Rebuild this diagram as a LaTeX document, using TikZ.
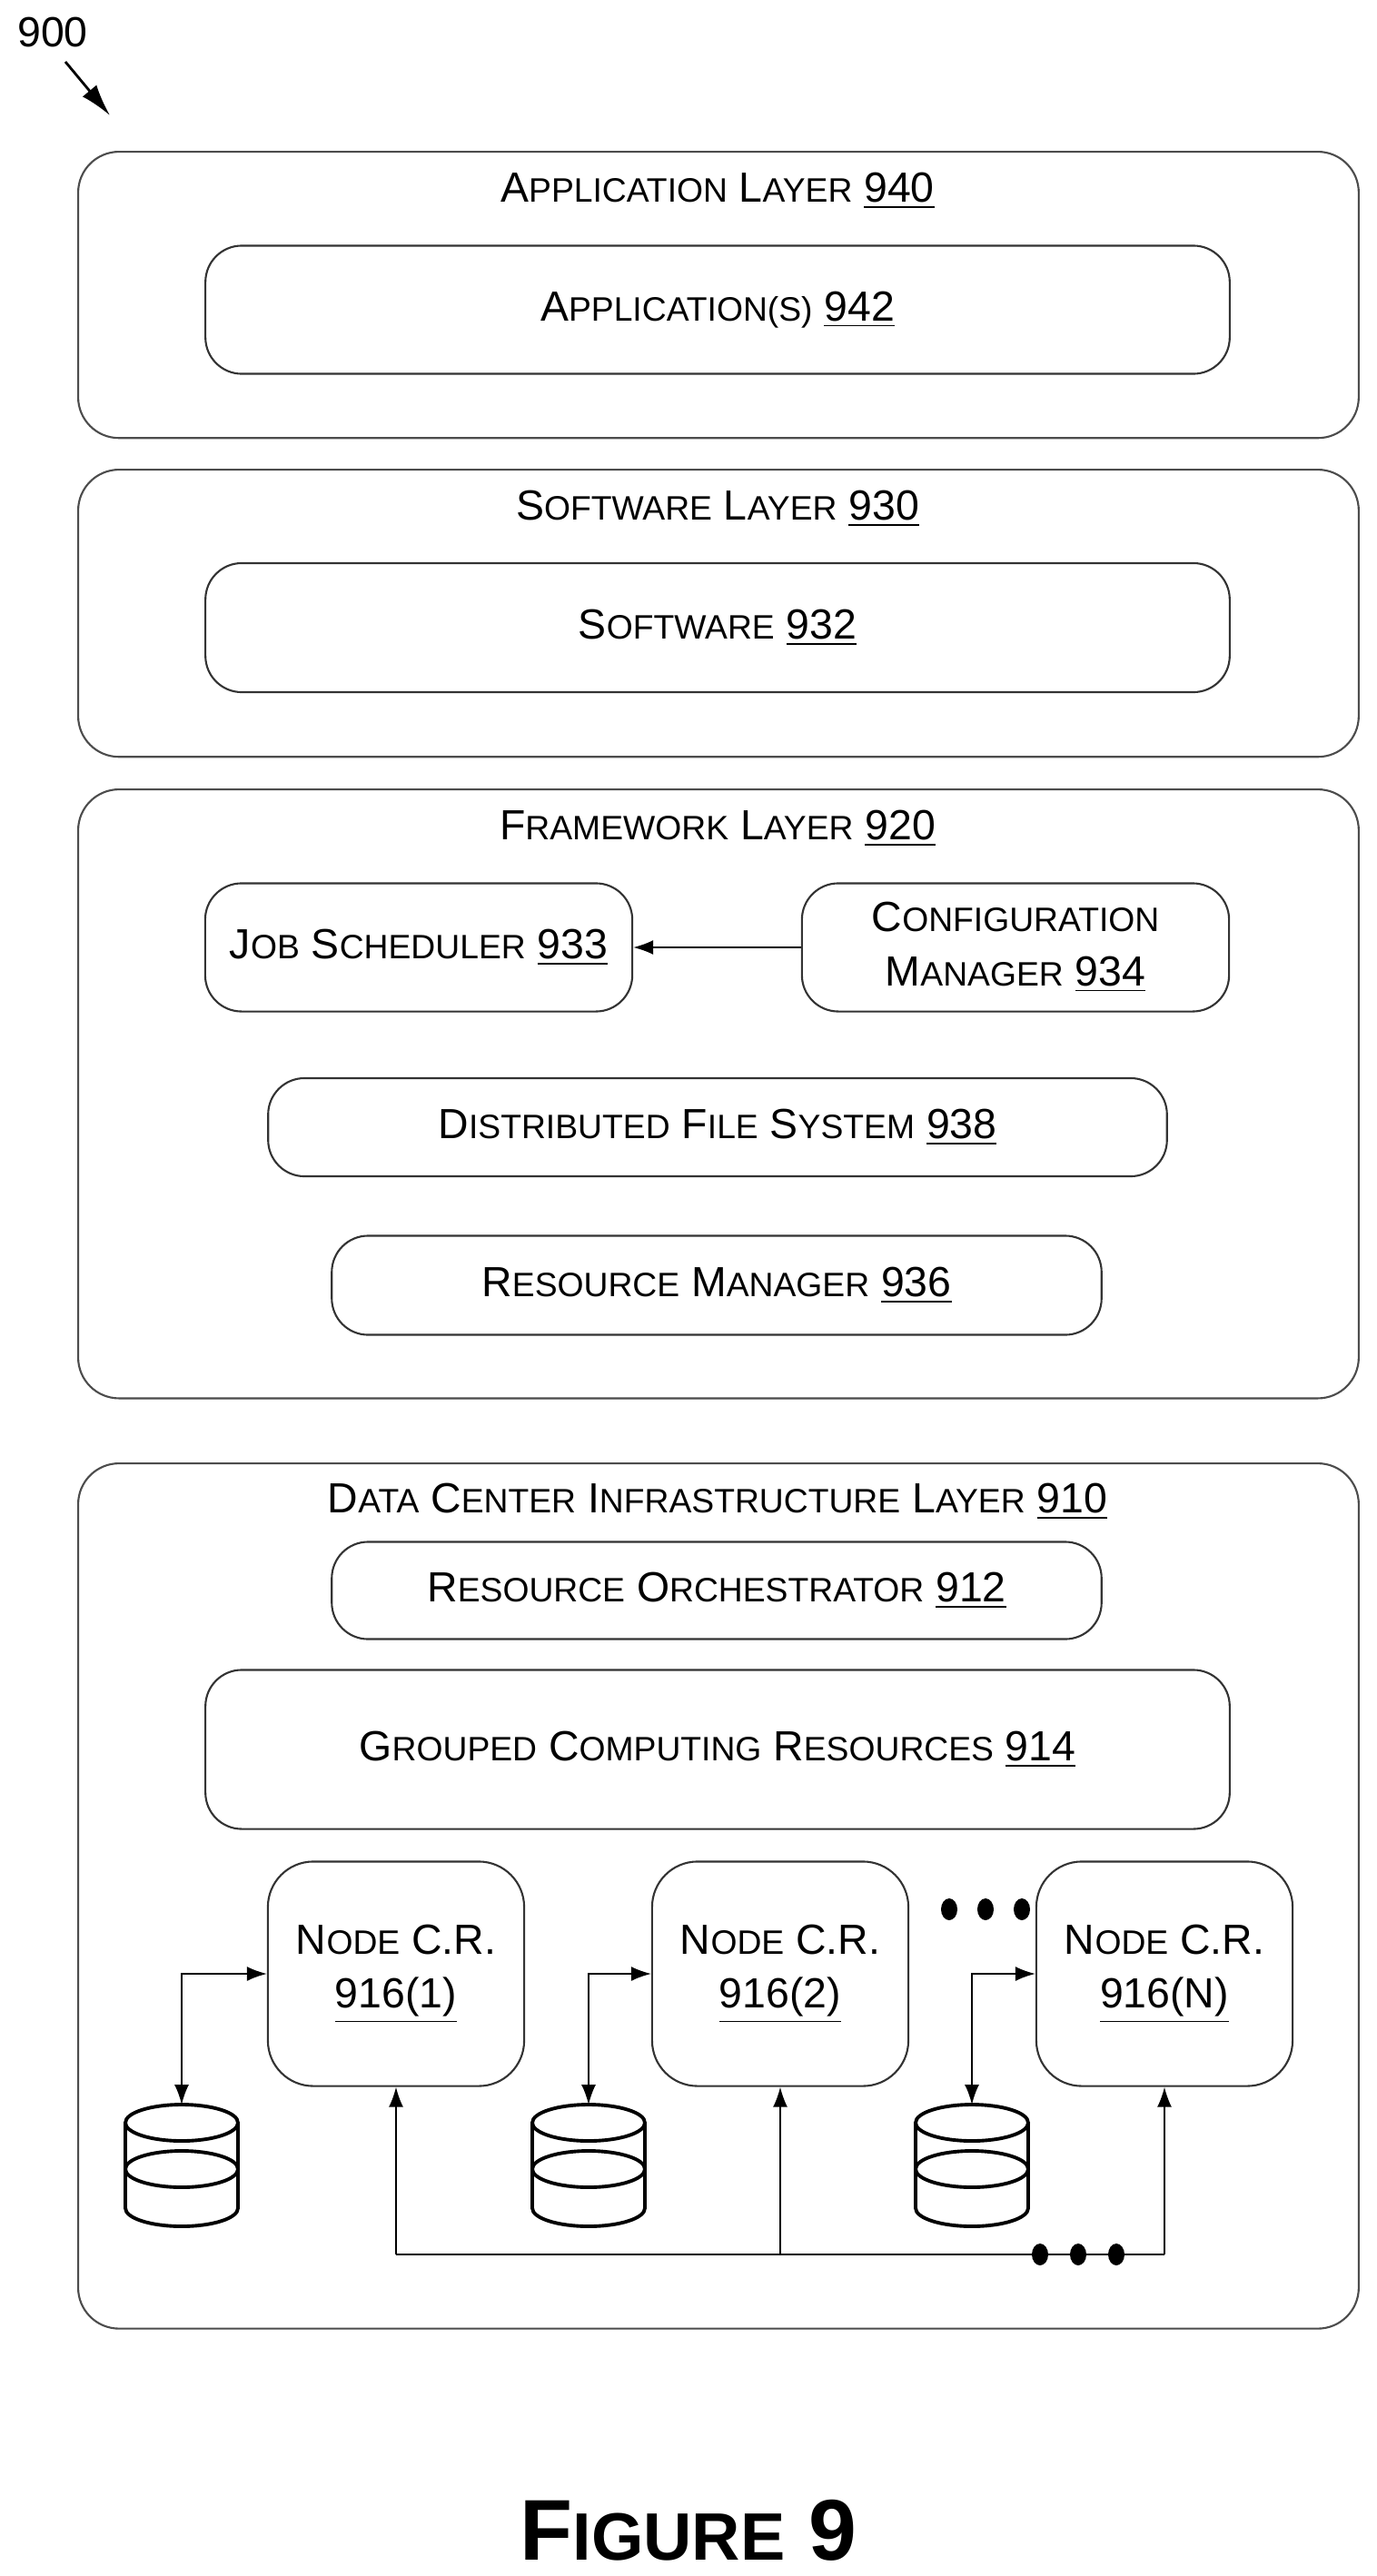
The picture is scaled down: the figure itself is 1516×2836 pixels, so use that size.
\documentclass[tikz,border=0pt]{standalone}
\usepackage{fontspec}
\setmainfont{Liberation Sans}
\usetikzlibrary{positioning}
\usetikzlibrary{arrows.meta}
\newcommand{\fsc}[2]{#1{\fontsize{10.6pt}{12pt}\selectfont\MakeUppercase{#2}}}
\tikzstyle{layernode}=[black, draw=black!70, line width=0.6pt, shape=rectangle, rounded corners=0.45cm, fill=white, minimum width=14.09cm, inner sep=0pt]
\tikzstyle{blocknode}=[black, draw=black!80, line width=0.6pt, shape=rectangle, rounded corners=0.4cm, fill=white, inner sep=2pt, align=center, font=\fontsize{13.2pt}{17pt}\selectfont]
\tikzstyle{titlenode}=[black, inner sep=0pt, font=\fontsize{13.2pt}{16pt}\selectfont]
\tikzstyle{arrowline}=[-{Latex[length=0.22cm, width=0.16cm]}, line width=0.5pt, color=black]
\begin{document}
\begin{tikzpicture}[x=0.01cm, y=-0.01cm]
\useasboundingbox (0,0) rectangle (1516,2836);

\node [titlenode] (fignum) at (58,36) {900};
\coordinate (fignumtip) at (121,127);
\draw[-{Latex[length=0.35cm, width=0.2cm]}, line width=0.8pt] (72,68) -- (fignumtip);

% layers
\node [layernode, minimum height=3.15cm, anchor=north west] (applayer) at (85,166) {};
\node [layernode, minimum height=3.16cm, anchor=north west] (swlayer) at (85,516) {};
\node [layernode, minimum height=6.70cm, anchor=north west] (fwlayer) at (85,868) {};
\node [layernode, minimum height=9.52cm, anchor=north west] (dclayer) at (85,1610) {};

\node [titlenode] (apptitle) at (790,210) {\fsc{A}{pplication} \fsc{L}{ayer} \underline{940}};
\node [titlenode] (swtitle) at (790,560) {\fsc{S}{oftware} \fsc{L}{ayer} \underline{930}};
\node [titlenode] (fwtitle) at (790,912) {\fsc{F}{ramework} \fsc{L}{ayer} \underline{920}};
\node [titlenode] (dctitle) at (790,1653) {\fsc{D}{ata} \fsc{C}{enter} \fsc{I}{nfrastructure} \fsc{L}{ayer} \underline{910}};

% blocks
\node [blocknode, minimum width=11.27cm, minimum height=1.41cm] (apps) at (790,341) {\fsc{A}{pplication(s)} \underline{942}};
\node [blocknode, minimum width=11.27cm, minimum height=1.42cm] (software) at (790,691) {\fsc{S}{oftware} \underline{932}};
\node [blocknode, minimum width=4.70cm, minimum height=1.41cm] (jobsched) at (461,1043) {\fsc{J}{ob} \fsc{S}{cheduler} \underline{933}};
\node [blocknode, minimum width=4.70cm, minimum height=1.41cm] (confmgr) at (1118,1043) {\fsc{C}{onfiguration}\\\fsc{M}{anager} \underline{934}};
\node [blocknode, minimum width=9.89cm, minimum height=1.08cm] (dfs) at (790,1241) {\fsc{D}{istributed} \fsc{F}{ile} \fsc{S}{ystem} \underline{938}};
\node [blocknode, minimum width=8.47cm, minimum height=1.09cm] (resmgr) at (789,1415) {\fsc{R}{esource} \fsc{M}{anager} \underline{936}};
\node [blocknode, minimum width=8.47cm, minimum height=1.07cm] (resorch) at (789,1751) {\fsc{R}{esource} \fsc{O}{rchestrator} \underline{912}};
\node [blocknode, minimum width=11.27cm, minimum height=1.75cm] (grouped) at (790,1926) {\fsc{G}{rouped} \fsc{C}{omputing} \fsc{R}{esources} \underline{914}};

\draw[arrowline] (confmgr) -- (jobsched);

% node computing resources
\node [blocknode, rounded corners=0.5cm, minimum width=2.82cm, minimum height=2.47cm] (ncr1) at (436,2173) {\fsc{N}{ode} C.R.\\\underline{916(1)}};
\node [blocknode, rounded corners=0.5cm, minimum width=2.82cm, minimum height=2.47cm] (ncr2) at (859,2173) {\fsc{N}{ode} C.R.\\\underline{916(2)}};
\node [blocknode, rounded corners=0.5cm, minimum width=2.82cm, minimum height=2.47cm] (ncrN) at (1282,2173) {\fsc{N}{ode} C.R.\\\underline{916(N)}};

% storage
\foreach \cx/\name in {200/db1, 648/db2, 1070/dbN} {
  \draw[line width=1.1pt] (\cx,2337) ellipse (62 and 20);
  \draw[line width=1.1pt] (\cx,2388) ellipse (62 and 20);
  \draw[line width=1.1pt] (\cx-62,2337) -- (\cx-62,2431) arc[start angle=180, end angle=0, x radius=62, y radius=20] -- (\cx+62,2337);
  \coordinate (\name) at (\cx,2317);
}
\draw[{Latex[length=0.22cm, width=0.16cm]}-{Latex[length=0.22cm, width=0.16cm]}, line width=0.5pt] (db1) |- (ncr1.west);
\draw[{Latex[length=0.22cm, width=0.16cm]}-{Latex[length=0.22cm, width=0.16cm]}, line width=0.5pt] (db2) |- (ncr2.west);
\draw[{Latex[length=0.22cm, width=0.16cm]}-{Latex[length=0.22cm, width=0.16cm]}, line width=0.5pt] (dbN) |- (ncrN.west);

% bus
\coordinate (bus1) at (436,2482);
\coordinate (bus2) at (859,2482);
\coordinate (busN) at (1282,2482);
\draw[line width=0.5pt] (bus1) -- (busN);
\draw[arrowline] (bus1) -- (ncr1.south);
\draw[arrowline] (bus2) -- (ncr2.south);
\draw[arrowline] (busN) -- (ncrN.south);
\foreach \dx in {1145,1187,1229} \fill (\dx,2482) ellipse (9 and 12);
\foreach \dx in {1045,1085,1125} \fill (\dx,2102) ellipse (9 and 12);

\node [black, inner sep=0pt, font=\bfseries\fontsize{27pt}{30pt}\selectfont] (figure) at (758,2786) {F{\fontsize{21pt}{24pt}\selectfont IGURE} 9};
\end{tikzpicture}
\end{document}
